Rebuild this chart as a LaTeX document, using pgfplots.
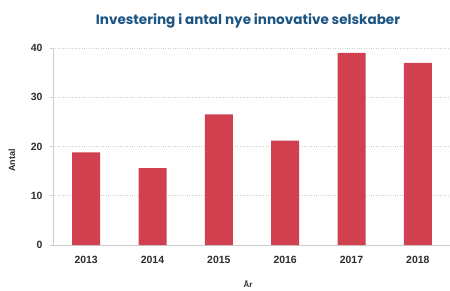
\documentclass[border=0pt]{standalone}
\usepackage{fontspec}
\setmainfont{Liberation Sans}
\newfontfamily\titlefont{Poppins}
\usepackage{pgfplots}
\pgfplotsset{compat=1.18}
\definecolor{barred}{RGB}{208,64,78}
\definecolor{titleblue}{RGB}{28,84,130}
\definecolor{txt}{RGB}{45,45,45}
\definecolor{gridc}{RGB}{205,205,205}
\begin{document}
\begin{tikzpicture}
\path[use as bounding box] (0,0) rectangle (450bp,291bp);
\begin{axis}[
  at={(53bp,46bp)}, anchor=south west,
  scale only axis, width=398bp, height=197bp,
  xmin=-0.5, xmax=5.5, ymin=0, ymax=40,
  xtick={0,1,2,3,4,5},
  xticklabels={2013,2014,2015,2016,2017,2018},
  ytick={0,10,20,30,40},
  axis x line*=bottom, axis y line*=left,
  axis line style={gridc, line width=0.8pt, -},
  ymajorgrids, grid style={gridc, dotted, line width=0.8pt},
  major tick length=3bp,
  xtick style={draw=none},
  ytick style={gridc, line width=0.8pt},
  tick align=outside,
  ticklabel style={font=\bfseries\fontsize{10.5}{12}\selectfont, text=txt},
  /pgf/number format/assume math mode=true,
  xticklabel style={yshift=-5bp},
  yticklabel style={xshift=-4bp},
  title={Investering i antal nye innovative selskaber},
  title style={at={(axis description cs:0.49,1.135)}, anchor=center, yshift=-6pt, font=\titlefont\bfseries\fontsize{13.6}{15}\selectfont, text=titleblue},
  ylabel={Antal},
  ylabel style={at={(axis description cs:-0.103,0.43)}, anchor=center, font=\bfseries\fontsize{9}{11}\selectfont, text=txt},
  xlabel={År},
  xlabel style={at={(axis description cs:0.49,-0.2)}, anchor=center, font=\bfseries\fontsize{8}{10}\selectfont, text=txt},
  clip=false,
]
\addplot[ybar, bar width=28bp, fill=barred, draw=none] coordinates {
(0,18.8) (1,15.6) (2,26.5) (3,21.2) (4,39.0) (5,37.0)
};
\end{axis}
\end{tikzpicture}
\end{document}
